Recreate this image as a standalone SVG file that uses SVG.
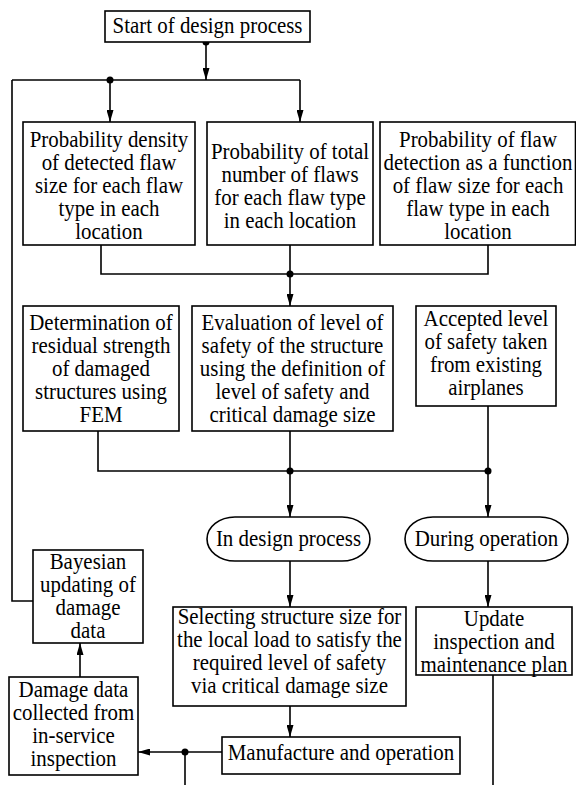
<svg xmlns="http://www.w3.org/2000/svg" width="576" height="785" viewBox="0 0 576 785">
<style>
.b{fill:#fff;stroke:#000;stroke-width:1.6}
.c{fill:none;stroke:#000;stroke-width:1.6}
.a{marker-end:url(#ah)}
.d{fill:#000}
.t{font-family:"Liberation Serif","Times New Roman",serif;font-size:22.5px;text-anchor:middle;fill:#000}
</style>
<defs>
<marker id="ah" markerUnits="userSpaceOnUse" markerWidth="12" markerHeight="7" refX="12" refY="3.5" orient="auto">
<path d="M0,0 L12,3.5 L0,7 z" fill="#000"/>
</marker>
</defs>
<rect width="576" height="785" fill="#fff"/>
<g id="connectors">
<path class="c a" d="M206,42 V80"/>
<path class="c" d="M12,80 H300"/>
<path class="c a" d="M110,80 V122"/>
<path class="c a" d="M300,80 V122"/>
<path class="c" d="M12,80 V601 H33"/>
<path class="c" d="M101,245 V274 H488 V245"/>
<path class="c" d="M290,245 V274"/>
<path class="c a" d="M290,274 V306"/>
<path class="c" d="M98,431 V471 H488 V406"/>
<path class="c" d="M290,431 V471"/>
<path class="c a" d="M290,471 V517"/>
<path class="c a" d="M488,471 V517"/>
<path class="c a" d="M290,561 V607"/>
<path class="c a" d="M488,561 V607"/>
<path class="c" d="M493,675 V785"/>
<path class="c a" d="M290,706 V737"/>
<path class="c a" d="M222,752 H138"/>
<path class="c" d="M185,752 V785"/>
<path class="c a" d="M80,677 V643"/>
<circle class="d" cx="206" cy="42" r="3.5"/>
<circle class="d" cx="110" cy="80" r="3.5"/>
<circle class="d" cx="290" cy="274" r="3.5"/>
<circle class="d" cx="290" cy="471" r="3.5"/>
<circle class="d" cx="488" cy="471" r="3.5"/>
<circle class="d" cx="185" cy="752" r="3.5"/>
</g>
<g id="start">
<rect class="b" x="105" y="11" width="205" height="31"/>
<text class="t" transform="translate(207.5,0) scale(0.93,1)"><tspan x="0" y="33">Start of design process</tspan></text>
</g>
<g id="pdf-size">
<rect class="b" x="23" y="122" width="172" height="123"/>
<text class="t" transform="translate(109,0) scale(0.93,1)"><tspan x="0" y="147">Probability density</tspan><tspan x="0" y="170">of detected flaw</tspan><tspan x="0" y="193">size for each flaw</tspan><tspan x="0" y="216">type in each</tspan><tspan x="0" y="239">location</tspan></text>
</g>
<g id="prob-number">
<rect class="b" x="207" y="122" width="166" height="123"/>
<text class="t" transform="translate(290,0) scale(0.93,1)"><tspan x="0" y="159">Probability of total</tspan><tspan x="0" y="182">number of flaws</tspan><tspan x="0" y="205">for each flaw type</tspan><tspan x="0" y="228">in each location</tspan></text>
</g>
<g id="pod">
<rect class="b" x="380" y="122" width="195.5" height="123"/>
<text class="t" transform="translate(478,0) scale(0.93,1)"><tspan x="0" y="147">Probability of flaw</tspan><tspan x="0" y="170">detection as a function</tspan><tspan x="0" y="193">of flaw size for each</tspan><tspan x="0" y="216">flaw type in each</tspan><tspan x="0" y="239">location</tspan></text>
</g>
<g id="residual">
<rect class="b" x="23" y="306" width="156" height="125"/>
<text class="t" transform="translate(101,0) scale(0.93,1)"><tspan x="0" y="330">Determination of</tspan><tspan x="0" y="353">residual strength</tspan><tspan x="0" y="376">of damaged</tspan><tspan x="0" y="399">structures using</tspan><tspan x="0" y="422">FEM</tspan></text>
</g>
<g id="evaluation">
<rect class="b" x="192" y="306" width="201" height="125"/>
<text class="t" transform="translate(292.5,0) scale(0.93,1)"><tspan x="0" y="330">Evaluation of level of</tspan><tspan x="0" y="353">safety of the structure</tspan><tspan x="0" y="376">using the definition of</tspan><tspan x="0" y="399">level of safety and</tspan><tspan x="0" y="422">critical damage size</tspan></text>
</g>
<g id="accepted">
<rect class="b" x="416" y="306" width="140" height="100"/>
<text class="t" transform="translate(486,0) scale(0.93,1)"><tspan x="0" y="326">Accepted level</tspan><tspan x="0" y="349">of safety taken</tspan><tspan x="0" y="372">from existing</tspan><tspan x="0" y="395">airplanes</tspan></text>
</g>
<g id="in-design">
<rect class="b" x="207" y="517" width="163" height="44" rx="28" ry="22"/>
<text class="t" transform="translate(288.5,0) scale(0.93,1)"><tspan x="0" y="546">In design process</tspan></text>
</g>
<g id="during-op">
<rect class="b" x="405" y="517" width="163" height="44" rx="28" ry="22"/>
<text class="t" transform="translate(486.5,0) scale(0.93,1)"><tspan x="0" y="546">During operation</tspan></text>
</g>
<g id="selecting">
<rect class="b" x="173" y="607" width="233" height="99"/>
<text class="t" transform="translate(289.5,0) scale(0.93,1)"><tspan x="0" y="624">Selecting structure size for</tspan><tspan x="0" y="647">the local load to satisfy the</tspan><tspan x="0" y="670">required level of safety</tspan><tspan x="0" y="693">via critical damage size</tspan></text>
</g>
<g id="update">
<rect class="b" x="416" y="607" width="156" height="68"/>
<text class="t" transform="translate(494,0) scale(0.93,1)"><tspan x="0" y="626">Update</tspan><tspan x="0" y="649">inspection and</tspan><tspan x="0" y="672">maintenance plan</tspan></text>
</g>
<g id="manufacture">
<rect class="b" x="222" y="737" width="238" height="37"/>
<text class="t" transform="translate(341,0) scale(0.93,1)"><tspan x="0" y="760">Manufacture and operation</tspan></text>
</g>
<g id="bayesian">
<rect class="b" x="33" y="550" width="110" height="93"/>
<text class="t" transform="translate(88,0) scale(0.93,1)"><tspan x="0" y="569">Bayesian</tspan><tspan x="0" y="592">updating of</tspan><tspan x="0" y="615">damage</tspan><tspan x="0" y="638">data</tspan></text>
</g>
<g id="damage-data">
<rect class="b" x="9" y="677" width="129" height="98"/>
<text class="t" transform="translate(73.5,0) scale(0.93,1)"><tspan x="0" y="697">Damage data</tspan><tspan x="0" y="720">collected from</tspan><tspan x="0" y="743">in-service</tspan><tspan x="0" y="766">inspection</tspan></text>
</g>
</svg>
